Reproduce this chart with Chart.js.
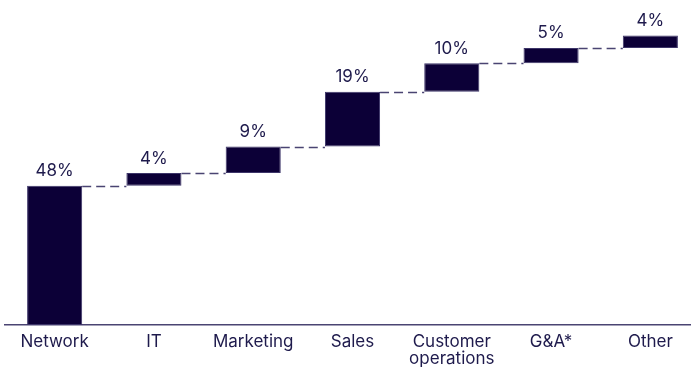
<!DOCTYPE html>
<html>
<head>
<meta charset="utf-8">
<script src="https://cdn.jsdelivr.net/npm/chart.js@4.4.1/dist/chart.umd.min.js"></script>
<style>
  html, body { margin: 0; padding: 0; background: #fff; overflow: hidden; }
  #wrap { width: 691px; height: 367px; overflow: hidden; }
</style>
</head>
<body>
<div id="wrap"><canvas id="chartCostes" width="700" height="367"></canvas></div>
<script>
// Datos del gráfico (cascada)
const categorias = ['Network', 'IT', 'Marketing', 'Sales', ['Customer', 'operations'], 'G&A*', 'Other'];
const valores = [48, 4.4, 9.1, 18.9, 9.8, 5.3, 4.3];
const etiquetas = ['48%', '4%', '9%', '19%', '10%', '5%', '4%'];

const colores = {
    barra: '#0c0037',
    borde: '#3d3569',
    texto: '#1e1a4c',
    linea: '#4a4472'
};

const fuente = 'Inter, "Noto Sans", sans-serif';

// Construir barras flotantes acumuladas
const tramos = [];
let acumulado = 0;
valores.forEach(v => {
    tramos.push([acumulado, acumulado + v]);
    acumulado += v;
});

// Etiquetas y líneas de conexión
const pluginCascada = {
    id: 'cascada',
    afterDatasetsDraw(chart) {
        const ctx = chart.ctx;
        const meta = chart.getDatasetMeta(0);
        const y = chart.scales.y;
        ctx.save();
        // líneas discontinuas
        ctx.strokeStyle = colores.linea;
        ctx.lineWidth = 1.5;
        ctx.setLineDash([9, 5]);
        for (let i = 0; i < meta.data.length - 1; i++) {
            const a = meta.data[i];
            const b = meta.data[i + 1];
            const py = Math.round(y.getPixelForValue(tramos[i][1])) + 0.5;
            ctx.beginPath();
            ctx.moveTo(a.x + a.width / 2, py);
            ctx.lineTo(b.x - b.width / 2, py);
            ctx.stroke();
        }
        ctx.setLineDash([]);
        // etiquetas de porcentaje
        ctx.fillStyle = colores.texto;
        ctx.font = '17px ' + fuente;
        ctx.textAlign = 'center';
        ctx.textBaseline = 'bottom';
        meta.data.forEach((bar, i) => {
            const top = y.getPixelForValue(tramos[i][1]);
            ctx.fillText(etiquetas[i], bar.x, top - 6);
        });
        ctx.restore();
    }
};

new Chart(document.getElementById('chartCostes'), {
    type: 'bar',
    data: {
        labels: categorias,
        datasets: [{
            data: tramos,
            backgroundColor: colores.barra,
            borderColor: colores.borde,
            borderWidth: 1,
            borderSkipped: false,
            categoryPercentage: 1,
            barPercentage: 0.555
        }]
    },
    options: {
        responsive: false,
        animation: false,
        layout: { padding: { left: 5, right: 0, top: 0, bottom: 0 } },
        plugins: {
            legend: { display: false },
            tooltip: { enabled: false }
        },
        scales: {
            x: {
                afterFit: function (scale) {
                    scale.height = 42;
                },
                grid: { display: false, drawTicks: false },
                border: { display: true, color: colores.linea, width: 1.5 },
                ticks: {
                    color: colores.texto,
                    padding: 8,
                    maxRotation: 0,
                    autoSkip: false,
                    font: { family: fuente, size: 17, lineHeight: 1.02 }
                }
            },
            y: {
                display: false,
                min: 0,
                max: 112
            }
        }
    },
    plugins: [pluginCascada]
});
</script>
</body>
</html>
